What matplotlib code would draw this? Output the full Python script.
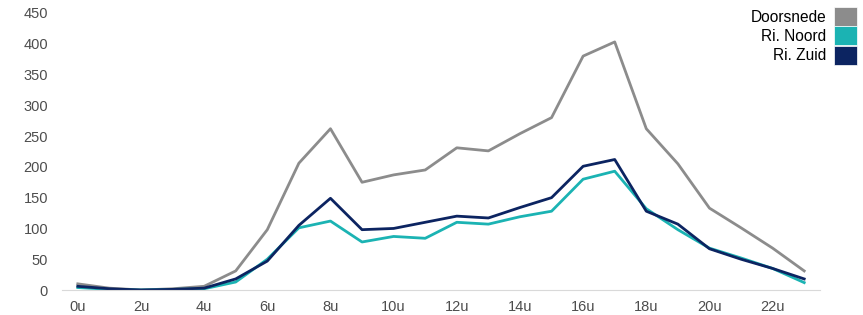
import numpy as np
import matplotlib.pyplot as plt
import matplotlib.patches as mpatches

plt.rcParams['font.family'] = ['Liberation Sans', 'DejaVu Sans']

hours = np.arange(24)
doorsnede = [10, 3, 0, 2, 6, 31, 98, 206, 262, 175, 187, 195, 231, 226, 254, 280,
             380, 403, 262, 205, 133, 101, 68, 31]
ri_noord = [4, 1, 0, 1, 2, 13, 50, 101, 112, 78, 87, 84, 110, 107, 119, 128,
            180, 193, 132, 98, 68, 52, 35, 12]
ri_zuid = [6, 2, 0, 1, 3, 18, 47, 105, 149, 98, 100, 110, 120, 117, 134, 150,
           201, 212, 128, 107, 67, 50, 35, 18]
series_names = ['Doorsnede', 'Ri. Noord', 'Ri. Zuid']
colors = ['#8c8c8c', '#1bb3b3', '#0c2461']
tick_hours = list(range(0, 24, 2))
tick_labels = [f'{h}u' for h in tick_hours]

fig = plt.figure(figsize=(8.63, 3.15), dpi=100)
ax = fig.add_axes([62 / 863, 25 / 315, 758 / 863, 277 / 315])

for vals, c, name in zip([doorsnede, ri_noord, ri_zuid], colors, series_names):
    ax.plot(hours, vals, color=c, lw=2.0, label=name)

ax.set_xlim(-0.5, 23.5)
ax.set_ylim(0, 450)
ax.set_yticks(np.arange(0, 451, 50))
ax.set_xticks(tick_hours)
ax.set_xticklabels(tick_labels)
ax.tick_params(length=0, labelsize=10.5, labelcolor='#4d4d4d', pad=7)
ax.tick_params(axis='y', pad=10)
for s in ['top', 'right', 'left']:
    ax.spines[s].set_visible(False)
ax.spines['bottom'].set_color('#d9d9d9')

handles = [mpatches.Patch(facecolor=c, edgecolor='white', lw=0.5, label=l)
           for c, l in zip(colors, series_names)]
fig.legend(handles=handles, loc='upper right', bbox_to_anchor=(868 / 863, 1.012),
           markerfirst=False, frameon=False, fontsize=11.2, handlelength=1.5,
           handleheight=1.5, handletextpad=0.5, labelspacing=0.02,
           borderpad=0.2)

fig.savefig('out.png', dpi=100)
